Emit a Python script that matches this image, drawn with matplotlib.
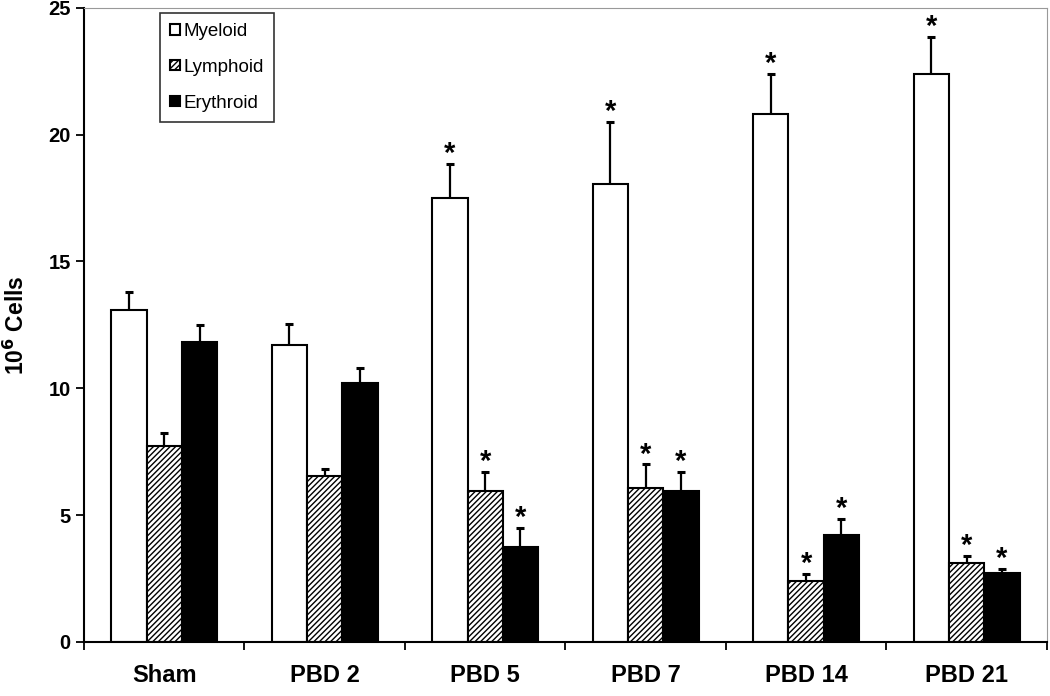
import numpy as np
import matplotlib.pyplot as plt

plt.rcParams['font.family'] = ['Liberation Sans', 'DejaVu Sans']
plt.rcParams['hatch.linewidth'] = 1.0

groups = ['Sham', 'PBD 2', 'PBD 5', 'PBD 7', 'PBD 14', 'PBD 21']
myeloid = [13.07, 11.7, 17.5, 18.05, 20.8, 22.4]
myeloid_err = [0.71, 0.85, 1.35, 2.45, 1.6, 1.45]
lymphoid = [7.73, 6.55, 5.95, 6.05, 2.4, 3.1]
lymphoid_err = [0.51, 0.28, 0.75, 0.95, 0.28, 0.3]
erythroid = [11.81, 10.2, 3.75, 5.95, 4.2, 2.7]
erythroid_err = [0.67, 0.6, 0.75, 0.75, 0.65, 0.17]
signif = [False, False, True, True, True, True]

fig = plt.figure(figsize=(10.5, 6.96), dpi=100)
ax = fig.add_axes([0.08, 0.0776, 0.917, 0.9114])

x = np.arange(len(groups))
w = 0.22
series = [
    ('Myeloid', myeloid, myeloid_err, 'white', None),
    ('Lymphoid', lymphoid, lymphoid_err, 'white', '//////'),
    ('Erythroid', erythroid, erythroid_err, 'black', None),
]
for i, (name, vals, errs, color, hatch) in enumerate(series):
    pos = x + (i - 1) * w
    ax.bar(pos, vals, w, color=color, edgecolor='black', linewidth=1.5,
           hatch=hatch, label=name, zorder=2)
    eb = ax.errorbar(pos, vals, yerr=[np.zeros(len(errs)), errs], fmt='none',
                     ecolor='black', elinewidth=1.6, capsize=3, capthick=2.2,
                     zorder=3)
    # only the upper cap is drawn in the original
    eb[1][0].set_visible(False)
    for p, v, e, s in zip(pos, vals, errs, signif):
        if s:
            ax.annotate('*', (p, v + e), xytext=(0, -3), textcoords='offset points',
                        ha='center', va='bottom', fontsize=21, fontweight='bold')

ax.set_xlim(-0.5, len(groups) - 0.5)
ax.set_ylim(0, 25)
ax.set_yticks([0, 5, 10, 15, 20, 25])
ax.set_xticks(x)
ax.set_xticklabels(groups, fontsize=17, fontweight='bold')
ax.set_xticks(np.arange(-0.5, len(groups)), minor=True)
ax.tick_params(axis='x', which='major', length=0, pad=16)
ax.tick_params(axis='x', which='minor', length=6, width=1.3, direction='out')
ax.tick_params(axis='y', labelsize=14.5, length=6, width=1.3, direction='out')
for lbl in ax.get_yticklabels():
    lbl.set_fontweight('bold')
ax.set_ylabel('10$^{\\mathbf{6}}$ Cells', fontsize=16.5, fontweight='bold', labelpad=14)

ax.spines['left'].set_linewidth(1.5)
ax.spines['bottom'].set_linewidth(1.5)
ax.spines['top'].set_color('#999999')
ax.spines['right'].set_color('#999999')

leg = ax.legend(loc='upper left', bbox_to_anchor=(0.079, 0.992), fontsize=13.5,
                frameon=True, fancybox=False, edgecolor='black', handlelength=0.5,
                handleheight=0.5, handletextpad=0.2, labelspacing=1.0,
                borderpad=0.55, borderaxespad=0)
leg.get_frame().set_linewidth(1.2)

fig.savefig('out.png', dpi=100)
